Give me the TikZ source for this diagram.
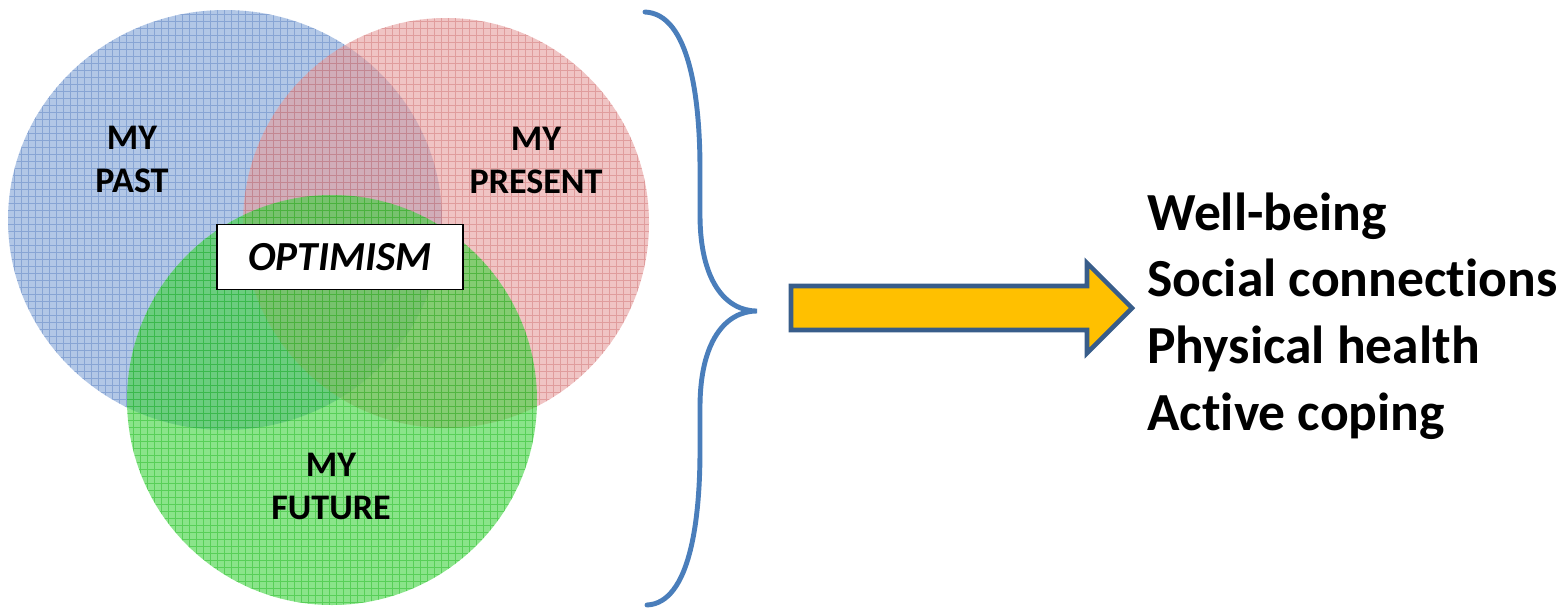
\documentclass[tikz,border=0pt]{standalone}
\usepackage{fontspec}
\setmainfont{Carlito}[RawFeature={-liga;-clig;-calt;-rlig}]
\usetikzlibrary{positioning}
\definecolor{pastblue}{HTML}{7FA2D6}
\definecolor{pastgrid}{HTML}{4A74B8}
\definecolor{presentpink}{HTML}{E69C9C}
\definecolor{presentgrid}{HTML}{C86464}
\definecolor{futuregreen}{HTML}{3CD23C}
\definecolor{futuregrid}{HTML}{10B010}
\definecolor{braceblue}{HTML}{4A7EBB}
\definecolor{arrowedge}{HTML}{385D8A}
\definecolor{arrowfill}{HTML}{FFC000}
\tikzset{
  gridline/.style={line width=0.4pt, draw opacity=0.4, step=0.14cm},
  circlelabel/.style={align=center, inner sep=0pt,
    font=\fontsize{20.5}{24.5}\selectfont\bfseries},
  optbox/.style={rectangle, draw=black, fill=white, line width=0.8pt,
    minimum width=4.92cm, minimum height=1.3cm,
    font=\fontsize{23.5}{27}\selectfont\bfseries\itshape},
  outcome/.style={anchor=base west, inner sep=0pt,
    font=\fontsize{30.5}{36}\selectfont\bfseries},
  brace/.style={draw=braceblue, line width=2.8pt, line cap=round},
  blockarrow/.style={draw=arrowedge, fill=arrowfill, line width=2.6pt, line join=miter},
}
\begin{document}
\begin{tikzpicture}[x=0.02cm, y=-0.02cm]
  \useasboundingbox (0,0) rectangle (1564,609);

  % past, present, future circles
  \foreach \cx/\cy/\rx/\ry/\fillcol/\gridcol in
    {225/220/217/210/pastblue/pastgrid,
     446/223/203/205/presentpink/presentgrid,
     332/400/205/205/futuregreen/futuregrid} {
    \fill[\fillcol, fill opacity=0.6] (\cx,\cy) ellipse [x radius=\rx, y radius=\ry];
    \begin{scope}
      \clip (\cx,\cy) ellipse [x radius=\rx, y radius=\ry];
      \draw[gridline, draw=\gridcol] (0,609) grid (700,0);
    \end{scope}
  }

  \node[circlelabel] (past) at (132,159) {MY\\PAST};
  \node[circlelabel] (present) at (536,160) {MY\\PRESENT};
  \node[circlelabel] (future) at (331,486) {MY\\FUTURE};
  \node[optbox] (optimism) at (340,257) {OPTIMISM};

  % brace round the three circles
  \coordinate (bracetop) at (645,12);
  \coordinate (bracetip) at (757,311);
  \coordinate (bracebottom) at (647,605);
  \draw[brace] (bracetop) .. controls (690,14) and (700,100) .. (700,170)
    -- (700,215) .. controls (700,280) and (725,311) .. (bracetip)
    .. controls (725,311) and (700,342) .. (700,407)
    -- (700,450) .. controls (700,520) and (690,603) .. (bracebottom);

  % block arrow
  \draw[blockarrow] (791,286) -- (1087,286) -- (1087,263) -- (1132,308)
    -- (1087,353) -- (1087,330) -- (791,330) -- cycle;

  \node[outcome] (wellbeing) at (1147,230) {Well-being};
  \node[outcome] (social) at (1147,296) {Social connect\kern0pt ions};
  \node[outcome] (physical) at (1147,363) {Physical health};
  \node[outcome] (coping) at (1147,430) {Act\kern0pt ive coping};
\end{tikzpicture}
\end{document}
